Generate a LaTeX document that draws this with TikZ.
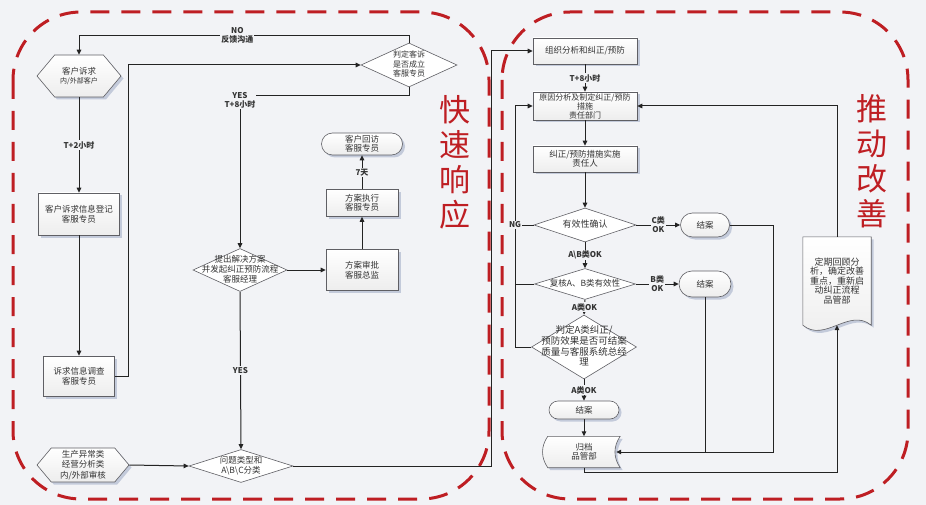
\documentclass[tikz,border=0pt]{standalone}
\usepackage{fontspec}
\setmainfont{Noto Sans CJK SC}
\usetikzlibrary{shapes.geometric,shapes.symbols,shapes.misc,arrows.meta,shadows,backgrounds}
\definecolor{bg}{RGB}{242,243,246}
\definecolor{hong}{RGB}{190,30,35}
\definecolor{xian}{RGB}{35,35,35}
\definecolor{bian}{RGB}{95,95,100}
\definecolor{ying}{RGB}{190,198,216}
\newcommand{\dtxt}[1]{\makebox[0pt]{\begin{tabular}{@{}c@{}}#1\end{tabular}}}

\begin{document}
\begin{tikzpicture}[x=1pt,y=-1pt,font=\fontsize{8.5}{9.5}\selectfont,text=black!80,
    sh/.style={drop shadow={shadow xshift=2.5pt,shadow yshift=-2.5pt,fill=ying,opacity=.9}},
    box/.style={rectangle,draw=bian,line width=.6pt,top color=white,bottom color=black!7,sh,align=center,inner sep=1pt},
    term/.style={box,rounded rectangle},
    hex/.style={box,signal,signal to=west and east,signal pointer angle=100},
    dia/.style={diamond,draw=bian,line width=.6pt,fill=white,inner sep=0pt},
    plain/.style={draw=none,align=center,inner sep=0pt},
    shp/.style={draw=bian,line width=.6pt,top color=white,bottom color=black!7,sh},
    ln/.style={draw=xian,line width=1pt},
    arr/.style={ln,-{Triangle[length=5pt,width=4.5pt]}},
    lbl/.style={fill=bg,inner sep=1pt,align=center,font=\fontsize{8}{9}\selectfont\bfseries},
    quyu/.style={draw=hong,line width=3pt,dash pattern=on 19pt off 12pt,rounded corners=68pt},
    big/.style={text=hong,align=center,font=\fontsize{31}{35}\selectfont}]
    \useasboundingbox (0,0) rectangle (926,505);
    \begin{scope}[on background layer]
        \fill[bg] (0,0) rectangle (926,505);
    \end{scope}
    \draw[quyu] (13,12) rectangle (489,499);
    \draw[quyu] (502,12) rectangle (908,499);
    \node[big] (kuaisu) at (455,162) {快\\速\\响\\应};
    \node[big] (tuidong) at (872,161) {推\\动\\改\\善};

    % kuai su xiang ying
    \draw (79,76) node[hex,minimum width=84pt,minimum height=42pt] (kehu) {客户诉求\\{\fontsize{7}{8}\selectfont 内/外部客户}};
    \draw (79,214) node[box,minimum width=81pt,minimum height=42pt] (dengji) {客户诉求信息登记\\客服专员};
    \draw (79,376) node[box,minimum width=71pt,minimum height=40pt] (diaocha) {诉求信息调查\\客服专员};
    \draw (409,65) node[dia,minimum width=96pt,minimum height=44pt,font=\fontsize{8}{8.5}\selectfont] (panding) {\dtxt{判定客诉\\是否成立\\客服专员}};
    \draw (240,270) node[dia,minimum width=94pt,minimum height=43pt,font=\fontsize{8.5}{9}\selectfont] (tichu) {\dtxt{提出解决方案\\并发起纠正预防流程\\客服经理}};
    \draw (362,270) node[box,minimum width=72pt,minimum height=41pt] (shenpi) {方案审批\\客服总监};
    \draw (362,203) node[box,minimum width=72pt,minimum height=27pt] (zhixing) {方案执行\\客服专员};
    \draw (362,144) node[term,minimum width=83pt,minimum height=22pt] (huifang) {客户回访\\客服专员};
    \draw (241,466) node[dia,minimum width=104pt,minimum height=33pt] (fenlei) {\dtxt{问题类型和\\A\textbackslash B\textbackslash C分类}};
    \draw (83,465) node[hex,minimum width=92pt,minimum height=34pt,font=\fontsize{8.5}{10.5}\selectfont] (shengchan) {生产异常类\\经营分析类\\内/外部审核};

    \draw[arr] (panding.north) -- ++(0,-7) -| node[lbl,pos=.26] {NO\\反馈沟通} (kehu.north);
    \draw[arr] (kehu.south) -- node[lbl] {T+2小时} (dengji.north);
    \draw[arr] (dengji.south) -- (diaocha.north);
    \draw[arr] (diaocha.east) -- ++(14,0) |- (panding.west);
    \draw[arr] (panding.south) -- ++(0,8) -| node[lbl,pos=.5,yshift=-5pt] {YES\\T+8小时} (tichu.north);
    \draw[arr] (tichu.east) -- (shenpi.west);
    \draw[arr] (shenpi.north) -- (zhixing.south);
    \draw[arr] (zhixing.north) -- node[lbl] {7天} (huifang.south);
    \draw[arr] (tichu.south) -- node[lbl] {YES} (fenlei.north);
    \draw[arr] (shengchan.east) -- (fenlei.west);

    % tui dong gai shan
    \draw (585,51) node[box,minimum width=104pt,minimum height=26pt] (zuzhi) {组织分析和纠正/预防};
    \draw (585,106) node[box,minimum width=104pt,minimum height=28pt,font=\fontsize{8}{9}\selectfont] (yuanyin) {原因分析及制定纠正/预防\\措施\\责任部门};
    \draw (585,159) node[box,minimum width=104pt,minimum height=26pt] (shishi) {纠正/预防措施实施\\责任人};
    \draw (585,225) node[dia,minimum width=102pt,minimum height=34pt,font=\fontsize{9}{10}\selectfont] (youxiao) {\dtxt{有效性确认}};
    \draw (705,225) node[term,minimum width=51pt,minimum height=24pt] (jieanC) {结案};
    \draw (585,284) node[dia,minimum width=101pt,minimum height=31pt] (fuhe) {\dtxt{复核A、B类有效性}};
    \draw (705,284) node[term,minimum width=54pt,minimum height=26pt] (jieanB) {结案};
    \draw (584,347) node[dia,minimum width=105pt,minimum height=64pt,font=\fontsize{9.5}{10}\selectfont] (pandingA) {\dtxt{判定A类纠正/\\预防效果是否可结案\\质量与客服系统总经\\理}};
    \draw (584,410) node[term,minimum width=72pt,minimum height=18pt] (jieanA) {结案};
    \draw (584,452) node[plain,minimum width=72pt,minimum height=31pt] (guidang) {归档\\品管部};
    \draw (837,281) node[plain,minimum width=68pt,minimum height=88pt,font=\fontsize{9}{9.5}\selectfont] (huigu) {定期回顾分\\析，确定改善\\重点，重新启\\动纠正流程\\品管部};
    \begin{scope}[on background layer]
        \draw[shp] (guidang.north west) to[bend right=35] (guidang.south west) -- (guidang.south east) to[bend left=35] (guidang.north east) -- cycle;
        \draw[shp] (huigu.south west) -- (huigu.north west) -- (huigu.north east) -- (huigu.south east) .. controls +(-22,-18) and +(22,18) .. (huigu.south west) -- cycle;
    \end{scope}

    \coordinate (ngx) at (515,0);
    \draw[arr] (fenlei.east) -- ++(198,0) |- (zuzhi.west);
    \draw[arr] (zuzhi.south) -- node[lbl] {T+8小时} (yuanyin.north);
    \draw[arr] (yuanyin.south) -- (shishi.north);
    \draw[arr] (shishi.south) -- (youxiao.north);
    \draw[arr] (youxiao.east) -- node[lbl] {C类\\OK} (jieanC.west);
    \draw[arr] (youxiao.south) -- node[lbl] {A\textbackslash B类OK} (fuhe.north);
    \draw[arr] (fuhe.east) -- node[lbl] {B类\\OK} (jieanB.west);
    \draw[arr] (fuhe.south) -- node[lbl] {A类OK} (pandingA.north);
    \draw[arr] (pandingA.south) -- node[lbl] {A类OK} (jieanA.north);
    \draw[arr] (jieanA.south) -- (guidang.north);
    \draw[ln] (youxiao.west) -- (youxiao.west -| ngx);
    \draw[ln] (fuhe.west) -- (fuhe.west -| ngx);
    \draw[arr] (pandingA.west) -| (ngx |- yuanyin.west) -- (yuanyin.west);
    \node[lbl] (ng) at (youxiao.west -| ngx) {NG};
    \draw[arr] (jieanC.east) -- ++(44,0) |- ([xshift=-4pt]guidang.east);
    \draw[ln] (jieanB.south) -- (jieanB.south |- guidang.east);
    \draw[arr] (guidang.south) -- ++(0,5) -| (huigu.south);
    \draw[arr] (huigu.north) |- (yuanyin.east);
\end{tikzpicture}
\end{document}
